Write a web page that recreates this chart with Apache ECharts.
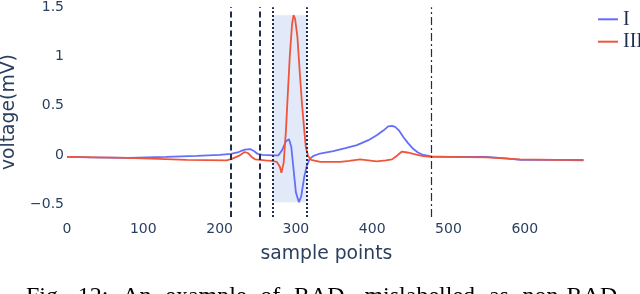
<!DOCTYPE html>
<html><head><meta charset="utf-8">
<script src="https://cdn.jsdelivr.net/npm/echarts@6/dist/echarts.min.js"></script>
<style>html,body{margin:0;padding:0;background:#fff}#c{width:640px;height:294px}</style>
</head><body><div id="c"></div>
<script>
// Lead I
const sampleI = [0,30,80,130,170,200,215,225,233,240,245,250,256,270,277,282,287,291,294,297,300,304,307,311,314,318,323,330,349,365,380,395,406,415,421,426,430,435,441,447,454,460,467,478,500,550,575,594,640,677];
const voltI   = [-0.02,-0.025,-0.03,-0.02,-0.01,0.0,0.01,0.03,0.055,0.06,0.04,0.01,0.0,-0.005,-0.005,0.05,0.14,0.16,0.08,-0.15,-0.38,-0.48,-0.42,-0.22,-0.12,-0.04,-0.01,0.01,0.04,0.07,0.10,0.15,0.20,0.25,0.29,0.295,0.285,0.25,0.18,0.12,0.06,0.025,0.0,-0.015,-0.02,-0.02,-0.035,-0.05,-0.05,-0.055];
// Lead III
const sampleIII = [0,40,78,120,157,209,216,225,233,237,242,247,260,268,275,279,281,284,287,289,292,295,297,299,302,305,308,311,313,316,320,332,358,370,384,395,406,418,426,432,439,446,454,465,476,500,550,594,640,677];
const voltIII   = [-0.02,-0.025,-0.03,-0.04,-0.05,-0.055,-0.04,-0.01,0.03,0.02,-0.02,-0.045,-0.055,-0.06,-0.07,-0.12,-0.18,-0.08,0.25,0.56,1.0,1.33,1.42,1.38,1.2,0.85,0.52,0.25,0.08,-0.01,-0.05,-0.07,-0.07,-0.06,-0.045,-0.055,-0.065,-0.055,-0.045,-0.01,0.035,0.025,0.01,-0.01,-0.02,-0.02,-0.025,-0.045,-0.05,-0.05];
// markers
const dashedMarks = [214.5, 252];
const dottedMarks = [270, 314];
const dashDotMarks = [478];
const xTicks = [0,100,200,300,400,500,600];
const yTicks = [-0.5,0,0.5,1,1.5];
const seriesNames = ['I','III'];
const captionWords = ['Fig.','12:','An','example','of','RAD,','mislabelled','as','non-RAD'];

const navy = '#2a3f5f';
const tickFont = 'DejaVu Sans';
const pairs = (xs, ys) => xs.map((x, i) => [x, ys[i]]);
const allV = voltI.concat(voltIII);
const vMin = Math.min(...allV), vMax = Math.max(...allV);

const captionX = [26,77.8,122.2,165.3,260.3,294,364.4,488.9,522.6];

const chart = echarts.init(document.getElementById('c'), null, {renderer:'canvas'});
const vline = (x, type, width) => ({xAxis: x, lineStyle: {type: type, width: width, color: '#1f2d4f'}});
chart.setOption({
  animation: false,
  backgroundColor: '#fff',
  grid: {left: 67, right: 54.2, top: 7.25, bottom: 77, containLabel: false, outerBoundsMode: 'none'},
  xAxis: {
    type: 'value', min: 0, max: 680,
    axisLine: {show: false}, axisTick: {show: false}, splitLine: {show: false},
    axisLabel: {customValues: xTicks, margin: 5, color: navy, fontFamily: tickFont, fontSize: 14},
    name: 'sample points', nameLocation: 'middle', nameGap: 28,
    nameTextStyle: {color: navy, fontFamily: tickFont, fontSize: 18.8, verticalAlign: 'top'}
  },
  yAxis: {
    type: 'value', min: -0.63, max: 1.5,
    axisLine: {show: false}, axisTick: {show: false}, splitLine: {show: false},
    axisLabel: {customValues: yTicks, margin: 3, color: navy, fontFamily: tickFont, fontSize: 14,
      formatter: v => v < 0 ? '\u2212' + Math.abs(v) : String(v)},
    name: 'voltage(mV)', nameLocation: 'middle', nameGap: 42,
    nameTextStyle: {color: navy, fontFamily: tickFont, fontSize: 18.8}
  },
  legend: {
    orient: 'vertical', left: 598, top: 9.3, itemGap: 2.4, padding: 0,
    itemWidth: 20, itemHeight: 2, icon: 'rect',
    data: seriesNames,
    textStyle: {fontFamily: 'Liberation Serif', fontSize: 20, color: '#1f2d4f', lineHeight: 20}
  },
  series: [
    {
      type: 'line', name: 'shade', data: [], silent: true, z: 1,
      markArea: {silent: true, itemStyle: {color: '#e2eaf9'},
        data: [[{xAxis: dottedMarks[0], yAxis: vMin}, {xAxis: dottedMarks[1], yAxis: vMax}]]}
    },
    {
      type: 'line', name: seriesNames[0], data: pairs(sampleI, voltI), showSymbol: false,
      lineStyle: {color: '#636efa', width: 1.8}, itemStyle: {color: '#636efa'}, z: 3
    },
    {
      type: 'line', name: seriesNames[1], data: pairs(sampleIII, voltIII), showSymbol: false,
      lineStyle: {color: '#ef553b', width: 1.8}, itemStyle: {color: '#ef553b'}, z: 4
    },
    {
      type: 'line', name: 'marks', data: [], silent: true, z: 5,
      markLine: {silent: true, symbol: ['none','none'], label: {show: false},
        data: dashedMarks.map(x => vline(x, [6,3.5], 2))
          .concat(dottedMarks.map(x => vline(x, [2,2], 2)))
          .concat(dashDotMarks.map(x => vline(x, [8,3,2,3], 1.2)))}
    }
  ],
  graphic: captionWords.map((w, i) => ({
    type: 'text', left: captionX[i], top: 285,
    style: {text: w, font: '24px "Liberation Serif"', fill: '#000', verticalAlign: 'top'}
  }))
});
</script>
</body></html>
